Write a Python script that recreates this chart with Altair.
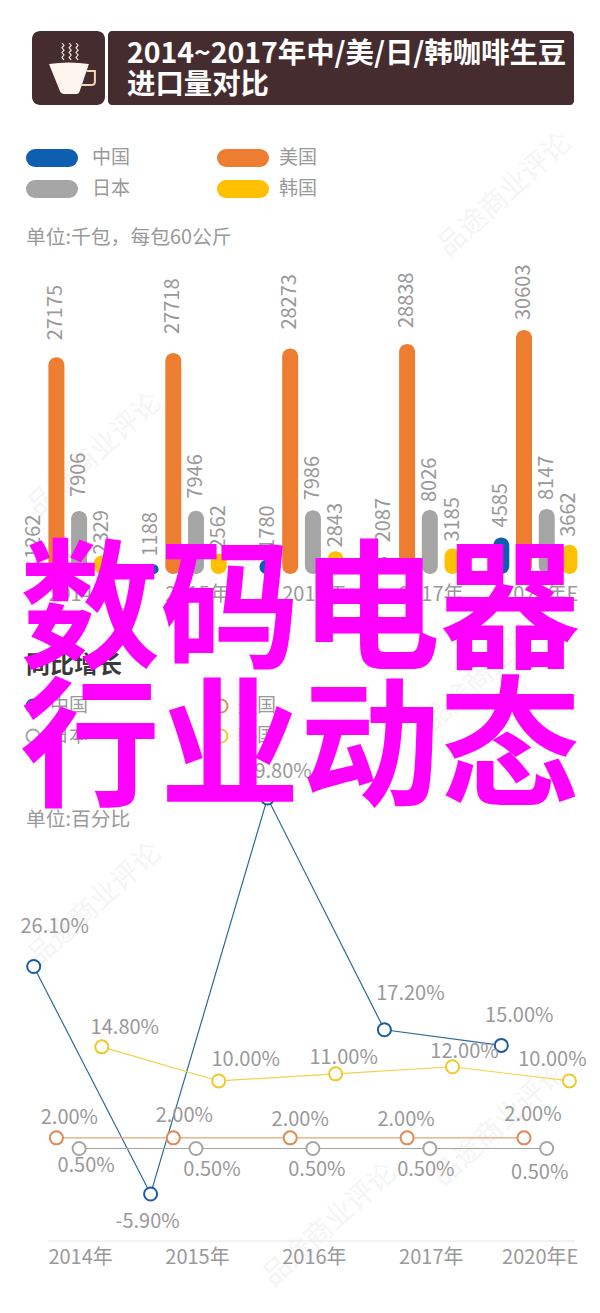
import altair as alt
import pandas as pd

# ---- data ----
years = ["2014年", "2015年", "2016年", "2017年", "2020年E"]
series = ["中国", "美国", "日本", "韩国"]
china = [1262, 1188, 1780, 2087, 4585]
usa = [27175, 27718, 28273, 28838, 30603]
japan = [7906, 7946, 7986, 8026, 8147]
korea = [2329, 2562, 2843, 3185, 3662]
g_china = [26.1, -5.9, 49.8, 17.2, 15.0]
g_usa = [2.0, 2.0, 2.0, 2.0, 2.0]
g_japan = [0.5, 0.5, 0.5, 0.5, 0.5]
g_korea = [14.8, 10.0, 11.0, 12.0, 10.0]
title_lines = ["2014~2017年中/美/日/韩咖啡生豆", "进口量对比"]
unit_a = "单位:千包，每包60公斤"
unit_b = "单位:百分比"
section_b = "同比增长"
overlay = ["数码电器", "行业动态"]
watermark = "品途商业评论"

# ---- styling and label layout (pixels) ----
FONT = "Noto Sans CJK SC"
bar_colors = ["#0f5fb0", "#ed7d31", "#a5a5a5", "#ffc000"]
ring_colors = ["#1a5c9e", "#e08a55", "#a5a5a5", "#f0c92b"]
line_colors = ["#2b6a97", "#e8a27a", "#a5a5a5", "#f0d24a"]
TXT = "#999999"
DARK = "#452c2f"
bar_gaps = [[5, 8, 10, 15, 10], [17, 19, 19, 16, 10], [14, 12, 10, 8, 9], [1, 4, 4, 7, 8]]
lab_dx = [[21, -3, 10, 26, 18], [13, 11, 10, -1, 9], [7, 16, 4, -4, -7], [23, 27, 8, 12, -17]]
lab_dy = [[-39, 28, -26, -36, -29], [-20, -22, -18, -18, -23], [18, 22, 22, 22, 25], [-19, -21, -16, -15, -21]]
year_nudge = [1.5, 1.5, 1.5, 1.5, -6.5]
SERIES_STEP = 0.1942

X_D = [0, 4.6]
X_R = [25.7, 25.7 + 116.9 * 4.6]
YB_D = [0, 30603]
YB_R = [566, 322]
YL_D = [-5.9, 49.8]
YL_R = [1186, 790]
px_per_x = (X_R[1] - X_R[0]) / (X_D[1] - X_D[0])
px_per_b = (YB_R[0] - YB_R[1]) / (YB_D[1] - YB_D[0])
px_per_l = (YL_R[0] - YL_R[1]) / (YL_D[1] - YL_D[0])

X = alt.Scale(domain=X_D, range=X_R, zero=False, nice=False, padding=0)
YB = alt.Scale(domain=YB_D, range=YB_R, zero=False, nice=False)
YL = alt.Scale(domain=YL_D, range=YL_R, zero=False, nice=False)
C_BAR = alt.Scale(domain=series, range=bar_colors)
C_RING = alt.Scale(domain=series, range=ring_colors)
C_LINE = alt.Scale(domain=series, range=line_colors)

bar_vals = [china, usa, japan, korea]
line_vals = [g_china, g_usa, g_japan, g_korea]
bars_df = pd.DataFrame([
    {"pos": i + j * SERIES_STEP, "series": s, "value": bar_vals[j][i],
     "lab_value": bar_vals[j][i] + bar_gaps[j][i] / px_per_b}
    for j, s in enumerate(series) for i in range(5)
])
lines_df = pd.DataFrame([
    {"pos": i + j * SERIES_STEP, "series": s, "value": line_vals[j][i],
     "label": f"{line_vals[j][i]:.2f}%",
     "lab_pos": i + j * SERIES_STEP + lab_dx[j][i] / px_per_x,
     "lab_value": line_vals[j][i] - lab_dy[j][i] / px_per_l}
    for j, s in enumerate(series) for i in range(5)
])
years_df = pd.DataFrame({"pos": [i + 2 * SERIES_STEP + year_nudge[i] / px_per_x for i in range(5)], "year": years})
one = pd.DataFrame({"k": [0]})


def px(x):
    return alt.value(x - 8)


def text(s, x, y, size=20, color=TXT, weight=400, align="left", angle=0):
    return alt.Chart(one).mark_text(
        text=s, font=FONT, fontSize=size, color=color, fontWeight=weight,
        align=align, baseline="middle", angle=angle
    ).encode(x=px(x), y=px(y))


def box(x, x2, y, y2, color, radius=0):
    return alt.Chart(one).mark_rect(color=color, cornerRadius=radius).encode(
        x=px(x), x2=px(x2), y=px(y), y2=px(y2))


def pill(x, x2, y, color):
    return alt.Chart(one).mark_rule(color=color, strokeWidth=18, strokeCap="round").encode(
        x=px(x + 9), x2=px(x2 - 9), y=px(y))


def ring(x, y, color):
    return alt.Chart(one).mark_point(filled=False, size=170, color=color, strokeWidth=2, opacity=1).encode(
        x=px(x), y=px(y))


def icon(path, fill=None, stroke=None, sw=1):
    kw = {"shape": path, "size": 3600, "opacity": 1, "filled": fill is not None, "strokeWidth": sw}
    if fill:
        kw["fill"] = fill
    if stroke:
        kw["stroke"] = stroke
    else:
        kw["strokeWidth"] = 0
    return alt.Chart(one).mark_point(**kw).encode(x=px(70), y=px(70))


marks = [(505, 195), (95, 455), (95, 905), (500, 1125), (490, 670), (330, 1225)]
water = [text(watermark, x, y, 28, "#f5f5f5", 400, "center", 318) for x, y in marks]

steam = ""
for cx in (-0.27, -0.03, 0.2):
    pts = [(cx + (0.07 if k % 2 else 0), -0.9 + k * 0.08) for k in range(8)]
    steam += "M" + " L".join(f"{a:.2f},{b:.2f}" for a, b in pts) + " "

chrome = [
    box(32, 105, 31, 105, DARK, 8),
    box(108, 574, 31, 105, DARK, 4),
    icon(steam, None, "#fbeee3", 1.1),
    icon("M-0.7,-0.2 Q-0.03,-0.3 0.63,-0.2 L0.32,0.72 Q0.3,0.8 0.22,0.8 L-0.2,0.8 Q-0.3,0.8 -0.33,0.72 Z", "#fff5ef"),
    icon("M0.55,0.03 L0.83,0.03 L0.83,0.4 Q0.83,0.5 0.7,0.5 L0.35,0.5", None, "#f5d5b8", 2),
    text(title_lines[0], 127, 54, 28.4, "white", 700),
    text(title_lines[1], 127, 85, 28.4, "white", 700),
]
for (x, y, tx, name, col) in [(26, 158, 92, series[0], bar_colors[0]), (217, 158, 279, series[1], bar_colors[1]),
                              (26, 189, 92, series[2], bar_colors[2]), (217, 189, 279, series[3], bar_colors[3])]:
    chrome += [pill(x, x + 52, y, col), text(name, tx, y, 19)]
chrome.append(text(unit_a, 26, 238, 19.8))
chrome.append(text(section_b, 26, 666, 24, "#3a3a3a", 700))
for (x, y, tx, name, col) in [(33, 706, 50, series[0], ring_colors[0]), (221, 706, 238, series[1], ring_colors[1]),
                              (33, 736, 50, series[2], ring_colors[2]), (221, 736, 238, series[3], ring_colors[3])]:
    chrome += [ring(x, y, col), text(name, tx, y, 19)]
chrome.append(text(unit_b, 26, 820, 19.8))

x_enc = alt.X("pos:Q", scale=X, axis=None)

bars = alt.Chart(bars_df).mark_bar(size=16, orient="vertical", cornerRadius=8).encode(
    x=x_enc,
    y=alt.Y("value:Q", scale=YB, axis=None, stack=None),
    y2=alt.Y2(datum=0),
    color=alt.Color("series:N", scale=C_BAR, legend=None),
)
bar_labels = alt.Chart(bars_df).mark_text(
    font=FONT, fontSize=20, color=TXT, angle=270, align="left", baseline="middle"
).encode(
    x=x_enc,
    y=alt.Y("lab_value:Q", scale=YB, axis=None, stack=None),
    text=alt.Text("value:Q", format="d"),
)
bar_years = alt.Chart(years_df).mark_text(font=FONT, fontSize=20, color=TXT, baseline="middle").encode(
    x=x_enc, y=alt.value(587), text="year:N"
)
bar_part = alt.layer(bars, bar_labels, bar_years)

y_line = alt.Y("value:Q", scale=YL, axis=None)
lines = alt.Chart(lines_df).mark_line(strokeWidth=1.2).encode(
    x=x_enc, y=y_line, order="pos:Q",
    color=alt.Color("series:N", scale=C_LINE, legend=None),
    detail="series:N",
)
points = alt.Chart(lines_df).mark_point(filled=True, fill="white", size=170, strokeWidth=2, opacity=1).encode(
    x=x_enc, y=y_line,
    stroke=alt.Stroke("series:N", scale=C_RING, legend=None),
)
point_labels = alt.Chart(lines_df).mark_text(font=FONT, fontSize=20, color=TXT, baseline="middle").encode(
    x=alt.X("lab_pos:Q", scale=X, axis=None),
    y=alt.Y("lab_value:Q", scale=YL, axis=None),
    text="label:N",
)
axis_rule = alt.Chart(one).mark_rule(color="#e6e6e6", strokeWidth=1).encode(
    x=px(48), x2=px(575), y=px(1241)
)
line_years = alt.Chart(years_df).mark_text(font=FONT, fontSize=20, color=TXT, baseline="middle").encode(
    x=x_enc, y=alt.value(1250), text="year:N"
)
line_part = alt.layer(axis_rule, lines, points, point_labels, line_years)

top = [text(overlay[0], 300, 615, 140, "#ff00ff", 700, "center"),
       text(overlay[1], 300, 753, 140, "#ff00ff", 700, "center")]

chart = alt.layer(*water, *chrome, bar_part, line_part, *top).resolve_scale(
    y="independent", x="independent", color="independent", stroke="independent"
).properties(width=584, height=1296, padding=0, autosize=alt.AutoSizeParams(type="none")).configure_view(stroke=None)

chart.save("out.html", embed_options={"renderer": "svg", "actions": False})
